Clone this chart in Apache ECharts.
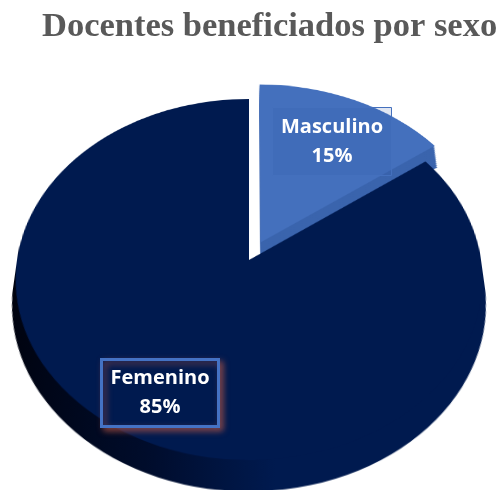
<!DOCTYPE html>
<html>
<head>
<meta charset="utf-8">
<title>Docentes beneficiados por sexo</title>
<script src="https://cdn.jsdelivr.net/npm/echarts@6/dist/echarts.min.js"></script>
<style>
    html, body { margin: 0; padding: 0; background: #fff; overflow: hidden; }
    #stage { position: relative; width: 500px; height: 490px; overflow: hidden; }
    /* the pie is a flat circle tilted with css, this gives the 3d look of the original */
    #pie {
        position: absolute; left: -1px; top: -40px; width: 500px; height: 600px;
        transform-origin: 250px 300px;
        transform: perspective(1372px) rotateX(39.7deg);
    }
    #overlay { position: absolute; left: 0; top: 0; width: 500px; height: 490px; }
</style>
</head>
<body>
<div id="stage">
    <div id="pie"></div>
    <div id="overlay"></div>
</div>
<script>
const chartTitle = 'Docentes beneficiados por sexo';
const categories = ['Masculino', 'Femenino'];
const values = [15, 85];

const faceColors = ['#4470bd', '#001a4f'];
const sideColors = ['#3a64ad', {
    type: 'linear', x: 0, y: 0, x2: 1, y2: 0,
    colorStops: [
        { offset: 0, color: '#00030f' },
        { offset: 0.3, color: '#000c2b' },
        { offset: 0.55, color: '#001a4f' },
        { offset: 1, color: '#001a4f' }
    ]
}];

// stacked copies of the pie make the side wall
const sideOffsets = [32, 29, 26, 23, 20, 17, 14, 11, 8, 5, 2];

// one pie layer, offsetY pushes it down on the tilted plane
function pieLayer(offsetY, colors) {
    return {
        type: 'pie',
        animation: false,
        silent: true,
        center: [250, 300 + offsetY],
        radius: [0, 232],
        startAngle: 90,
        selectedMode: 'multiple',
        selectedOffset: 26,
        label: { show: false },
        labelLine: { show: false },
        emphasis: { disabled: true },
        data: categories.map(function (name, i) {
            return {
                name: name,
                value: values[i],
                selected: i === 0,
                itemStyle: { color: colors[i] }
            };
        })
    };
}

var pieChart = echarts.init(document.getElementById('pie'));
pieChart.setOption({
    animation: false,
    series: sideOffsets.map(function (offset) {
        return pieLayer(offset, sideColors);
    }).concat([pieLayer(0, faceColors)])
});

const labelFont = {
    color: '#fff',
    fontFamily: '"Open Sans", sans-serif',
    fontWeight: 'bold',
    fontSize: 20,
    lineHeight: 29
};

var overlay = echarts.init(document.getElementById('overlay'));
overlay.setOption({
    animation: false,
    title: [
        {
            text: chartTitle,
            left: 42,
            top: 10,
            padding: 0,
            textStyle: {
                color: '#595959',
                fontFamily: '"Liberation Serif", serif',
                fontWeight: 'bold',
                fontSize: 34.5
            }
        },
        {
            // with textAlign center, left is the text middle minus the side padding
            text: categories[0] + '\n' + values[0] + '%',
            left: 323,
            top: 107,
            padding: [6, 9, 5, 9],
            backgroundColor: 'rgba(50,90,165,0.15)',
            borderColor: '#4470bd',
            borderWidth: 1,
            textAlign: 'center',
            textStyle: labelFont
        },
        {
            text: categories[1] + '\n' + values[1] + '%',
            left: 151,
            top: 359,
            padding: [5, 9, 5, 9],
            backgroundColor: '#001a4f',
            borderColor: '#4472c4',
            borderWidth: 3,
            shadowColor: 'rgba(190,90,70,0.6)',
            shadowBlur: 6,
            shadowOffsetX: 3,
            shadowOffsetY: 3,
            textAlign: 'center',
            textStyle: labelFont
        }
    ]
});

window.addEventListener('resize', function () {
    pieChart.resize();
    overlay.resize();
});
</script>
</body>
</html>
